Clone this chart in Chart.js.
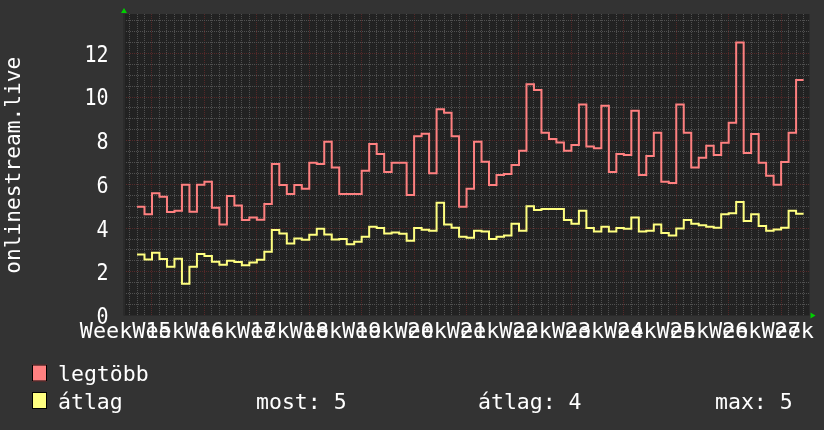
<!DOCTYPE html>
<html>
<head>
<meta charset="utf-8">
<script src="https://cdn.jsdelivr.net/npm/chart.js@4.4.0/dist/chart.umd.min.js"></script>
<style>
  html, body { margin: 0; padding: 0; background: #333333; }
  #wrap { width: 824px; height: 430px; }
</style>
</head>
<body>
<div id="wrap"><canvas id="myChart"></canvas></div>
<script>
// texts
const yTitle = 'onlinestream.live';
const seriesNames = ['legtöbb', 'átlag'];
const statTexts = ['most: 5', 'átlag: 4', 'max: 5'];

// x axis: one label per week, placed by day number
const weekLabels = ['Week 15', 'Week 16', 'Week 17', 'Week 18', 'Week 19', 'Week 20', 'Week 21',
  'Week 22', 'Week 23', 'Week 24', 'Week 25', 'Week 26', 'Week 27', 'Week 28'];
const weekLabelDays = [-1.5, 5.5, 12.5, 19.5, 26.5, 33.5, 40.5, 47.5, 54.5, 61.5, 68.5, 75.5, 82.5, 89.5];

// y axis labels
const yTickValues = [0, 2, 4, 6, 8, 10, 12];
const yTickLabels = ['0', '2', '4', '6', '8', '10', '12'];

// daily values, day 0 .. 88
const legtobb = [
  4.98, 4.64, 5.6, 5.44, 4.74, 4.8, 5.98, 4.75, 5.98, 6.12,
  4.93, 4.16, 5.47, 5.03, 4.37, 4.48, 4.38, 5.1, 6.93, 5.97,
  5.56, 5.97, 5.8, 6.99, 6.93, 7.95, 6.77, 5.56, 5.56, 5.56,
  6.63, 7.85, 7.39, 6.57, 6.99, 6.99, 5.51, 8.21, 8.32, 6.51,
  9.44, 9.28, 8.21, 4.98, 5.8, 7.95, 7.04, 5.97, 6.43, 6.48,
  6.89, 7.54, 10.58, 10.32, 8.37, 8.08, 7.92, 7.54, 7.8, 9.66,
  7.73, 7.66, 9.6, 6.57, 7.39, 7.35, 9.37, 6.43, 7.3, 8.37,
  6.12, 6.07, 9.66, 8.37, 6.77, 7.22, 7.77, 7.35, 7.91, 8.82,
  12.49, 7.44, 8.31, 6.99, 6.4, 5.98, 7.03, 8.37, 10.78
];
const atlag = [
  2.79, 2.56, 2.87, 2.59, 2.23, 2.6, 1.45, 2.23, 2.81, 2.72,
  2.46, 2.32, 2.51, 2.45, 2.3, 2.43, 2.55, 2.92, 3.91, 3.75,
  3.3, 3.52, 3.47, 3.7, 3.97, 3.71, 3.48, 3.5, 3.26, 3.38,
  3.6, 4.06, 4.01, 3.75, 3.8, 3.74, 3.42, 4.0, 3.92, 3.88,
  5.16, 4.17, 4.02, 3.61, 3.56, 3.88, 3.84, 3.5, 3.61, 3.66,
  4.2, 3.88, 5.0, 4.83, 4.88, 4.88, 4.88, 4.37, 4.2, 4.8,
  4.0, 3.84, 4.06, 3.84, 4.0, 3.97, 4.48, 3.84, 3.88, 4.17,
  3.78, 3.66, 3.98, 4.37, 4.2, 4.13, 4.06, 4.02, 4.63, 4.68,
  5.2, 4.33, 4.63, 4.1, 3.88, 3.94, 4.02, 4.8, 4.66
];

const MINOR = '#505050';
const MAJOR = '#552828';
const FONT = '"DejaVu Sans Mono", monospace';

// each value holds for one whole day, so repeat the last one at the end
function toSteps(values) {
  const pts = values.map((v, i) => ({ x: i, y: v }));
  pts.push({ x: values.length, y: values[values.length - 1] });
  return pts;
}

// draw text, optionally stretched like the rrdtool picture
function drawText(ctx, text, x, yBase, size, sx, sy, align) {
  ctx.save();
  ctx.translate(x, yBase);
  ctx.scale(sx, sy);
  ctx.font = size + 'px ' + FONT;
  ctx.textAlign = align;
  ctx.textBaseline = 'alphabetic';
  ctx.fillText(text, 0, 0);
  ctx.restore();
}

const rrdLook = {
  id: 'rrdLook',
  beforeDraw(chart) {
    const { ctx, chartArea: a } = chart;
    ctx.save();
    ctx.fillStyle = '#333333';
    ctx.fillRect(0, 0, chart.width, chart.height);
    ctx.fillStyle = '#222222';
    ctx.fillRect(a.left, a.top, a.right - a.left, a.bottom - a.top);
    ctx.restore();
  },
  afterDraw(chart) {
    const { ctx, chartArea: a, scales: { x, y } } = chart;
    ctx.save();
    ctx.fillStyle = '#ffffff';

    // y tick labels
    yTickValues.forEach((v, i) => {
      drawText(ctx, yTickLabels[i], 108.5, y.getPixelForValue(v) + 8.4, 20, 1, 1.16, 'right');
    });

    // week labels (they overlap, like in the original)
    weekLabels.forEach((t, i) => {
      drawText(ctx, t, x.getPixelForValue(weekLabelDays[i]), 338, 21.8, 1, 1, 'center');
    });

    // y axis title
    ctx.save();
    ctx.translate(19.5, (a.top + a.bottom) / 2 + 0.5);
    ctx.rotate(-Math.PI / 2);
    ctx.font = '21.2px ' + FONT;
    ctx.textAlign = 'center';
    ctx.fillText(yTitle, 0, 0);
    ctx.restore();

    // axis line
    ctx.strokeStyle = '#2b2b2b';
    ctx.lineWidth = 2;
    ctx.beginPath();
    ctx.moveTo(a.left, a.top);
    ctx.lineTo(a.left, a.bottom);
    ctx.stroke();

    // green arrows
    ctx.fillStyle = '#00d000';
    ctx.beginPath();
    ctx.moveTo(a.left - 3, a.top - 1);
    ctx.lineTo(a.left + 3, a.top - 1);
    ctx.lineTo(a.left, a.top - 6);
    ctx.closePath();
    ctx.fill();
    ctx.beginPath();
    ctx.moveTo(a.right + 1, a.bottom - 3);
    ctx.lineTo(a.right + 1, a.bottom + 3);
    ctx.lineTo(a.right + 6, a.bottom);
    ctx.closePath();
    ctx.fill();

    // legend
    const boxColors = chart.data.datasets.map(d => d.borderColor);
    const rows = [381, 408.5];
    seriesNames.forEach((name, i) => {
      ctx.fillStyle = boxColors[i];
      ctx.fillRect(32, rows[i] - 16.5, 15, 17);
      ctx.strokeStyle = '#000000';
      ctx.lineWidth = 1;
      ctx.strokeRect(32.5, rows[i] - 16, 14, 16);
      ctx.fillStyle = '#ffffff';
      drawText(ctx, name, 58, rows[i], 21.5, 1, 1, 'left');
    });
    const statX = [256, 478, 715];
    statTexts.forEach((t, i) => drawText(ctx, t, statX[i], rows[1], 21.5, 1, 1, 'left'));

    ctx.restore();
  }
};

document.addEventListener('DOMContentLoaded', function() {
  const ctx = document.getElementById('myChart').getContext('2d');

  new Chart(ctx, {
    type: 'line',
    data: {
      datasets: [{
        label: seriesNames[0],
        data: toSteps(legtobb),
        borderColor: '#ff8080',
        borderWidth: 2,
        stepped: true,
        pointRadius: 0,
        fill: false
      }, {
        label: seriesNames[1],
        data: toSteps(atlag),
        borderColor: '#ffff80',
        borderWidth: 2,
        stepped: true,
        pointRadius: 0,
        fill: false
      }]
    },
    options: {
      responsive: true,
      maintainAspectRatio: false,
      animation: false,
      events: [],
      layout: { padding: { left: 124, right: 14.5, top: 14, bottom: 114.5 } },
      plugins: { legend: { display: false }, tooltip: { enabled: false } },
      scales: {
        x: {
          type: 'linear',
          min: -1.736,
          max: 89.79,
          afterBuildTicks: scale => {
            const t = [];
            for (let d = -1; d <= 89; d++) t.push({ value: d });
            scale.ticks = t; // one grid line per day
          },
          ticks: { display: false },
          grid: {
            drawTicks: false,
            lineWidth: 1,
            color: c => ((Math.round(c.tick.value) - 2) % 7 === 0 ? MAJOR : MINOR)
          },
          border: { display: false, dash: [1, 1] }
        },
        y: {
          min: 0,
          max: 13.8,
          afterBuildTicks: scale => {
            const t = [];
            for (let v = 0.5; v <= 13.5; v += 0.5) t.push({ value: v });
            scale.ticks = t;
          },
          ticks: { display: false },
          grid: {
            drawTicks: false,
            lineWidth: 1,
            color: c => (c.tick.value % 2 === 0 ? MAJOR : MINOR)
          },
          border: { display: false, dash: [1, 1] }
        }
      }
    },
    plugins: [rrdLook]
  });
});
</script>
</body>
</html>
